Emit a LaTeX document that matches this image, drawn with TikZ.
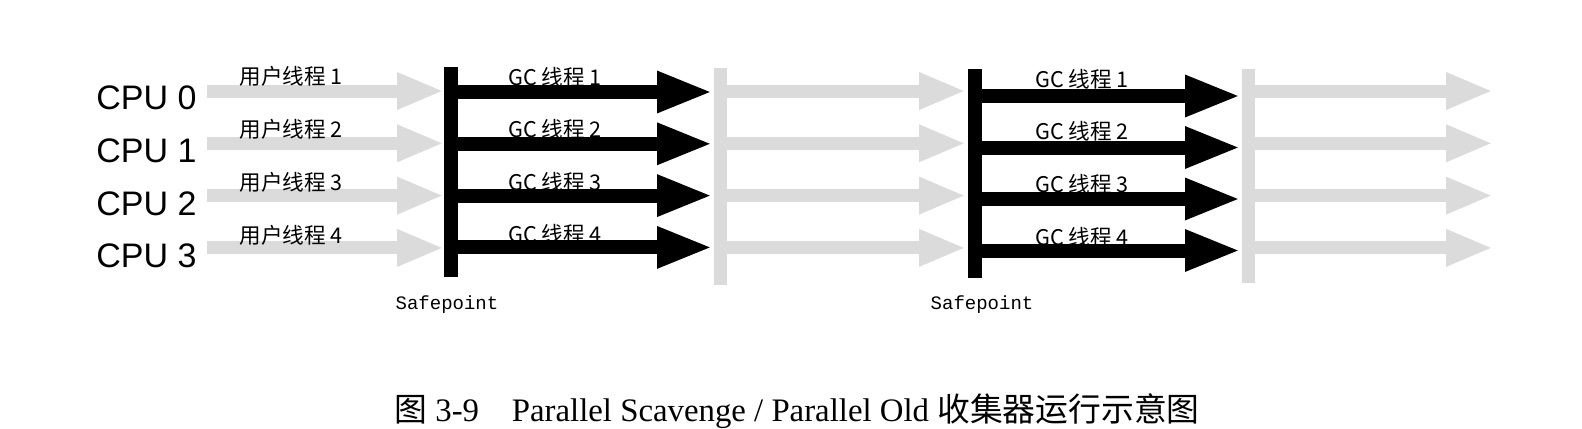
\documentclass[tikz,border=0pt]{standalone}
\usepackage{fontspec}
\setmainfont{Liberation Serif}
\newfontfamily\cjk{Noto Sans CJK SC}
\newfontfamily\cpufont{Liberation Sans}
\newfontfamily\spfont{Liberation Mono}
\usetikzlibrary{arrows.meta}
\definecolor{faded}{gray}{0.86}
\tikzset{
  cpulabel/.style={font=\cpufont\fontsize{17}{20}\selectfont, anchor=west, inner sep=0pt},
  thread/.style={font=\cjk\fontsize{10.8}{12}\selectfont, inner sep=0pt},
  run/.style={faded, line width=6.5pt, -{Triangle[length=23.5pt,width=17pt]}},
  gcrun/.style={black, line width=7pt, -{Triangle[length=28pt,width=19pt]}},
  spbar/.style={black, line width=7pt},
  waitbar/.style={faded, line width=6.5pt},
  splabel/.style={font=\spfont\fontsize{9.5}{11}\selectfont, inner sep=0pt},
}
\begin{document}
\begin{tikzpicture}[x=0.5pt, y=-0.5pt]
    \useasboundingbox (0,0) rectangle (1582,428);

    % safepoints and the grey pauses after the GC
    \coordinate (sp1top) at (451,67);
    \coordinate (sp1bot) at (451,277);
    \coordinate (w1top) at (720,68);
    \coordinate (w1bot) at (720,285);
    \coordinate (sp2top) at (975,69);
    \coordinate (sp2bot) at (975,278);
    \coordinate (w2top) at (1248,69);
    \coordinate (w2bot) at (1248,283);

    \draw[waitbar] (w1top) -- (w1bot);
    \draw[waitbar] (w2top) -- (w2bot);

    \foreach \i in {0,...,3} {
        \pgfmathsetmacro{\ya}{91+52.3*\i}
        \pgfmathsetmacro{\yb}{92+51.8*\i}
        \pgfmathsetmacro{\yc}{96+51.5*\i}
        \pgfmathtruncatemacro{\n}{\i+1}

        % user threads before the first safepoint
        \coordinate (a\i) at (207,\ya);
        \coordinate (b\i) at (444,\ya);
        \draw[run] (a\i) -- (b\i);

        % first GC
        \coordinate (c\i) at (457,\yb);
        \coordinate (d\i) at (713,\yb);
        \draw[gcrun] (c\i) -- (d\i);

        % user threads between the safepoints
        \coordinate (e\i) at (727,\ya);
        \coordinate (f\i) at (966,\ya);
        \draw[run] (e\i) -- (f\i);

        % second GC
        \coordinate (g\i) at (981,\yc);
        \coordinate (h\i) at (1241,\yc);
        \draw[gcrun] (g\i) -- (h\i);

        % user threads after the second GC
        \coordinate (k\i) at (1255,\ya);
        \coordinate (l\i) at (1493,\ya);
        \draw[run] (k\i) -- (l\i);

        \node[cpulabel] (cpu\i) at (96,98+52.7*\i) {CPU \i};
        \node[thread, anchor=west] (user\i) at (239,76+53*\i) {用户线程 \n};
        \node[thread] (gca\i) at (555,77+52.5*\i) {GC 线程 \n};
        \node[thread] (gcb\i) at (1082,79+52.7*\i) {GC 线程 \n};
    }

    \draw[spbar] (sp1top) -- (sp1bot);
    \draw[spbar] (sp2top) -- (sp2bot);
    \node[splabel] (sp1) at (447,305) {Safepoint};
    \node[splabel] (sp2) at (982,305) {Safepoint};

    \node[inner sep=0pt, font=\fontsize{16.4}{19}\selectfont] (caption) at (797,411)
        {{\cjk 图} 3-9\quad Parallel Scavenge / Parallel Old {\cjk 收集器运行示意图}};
\end{tikzpicture}
\end{document}
